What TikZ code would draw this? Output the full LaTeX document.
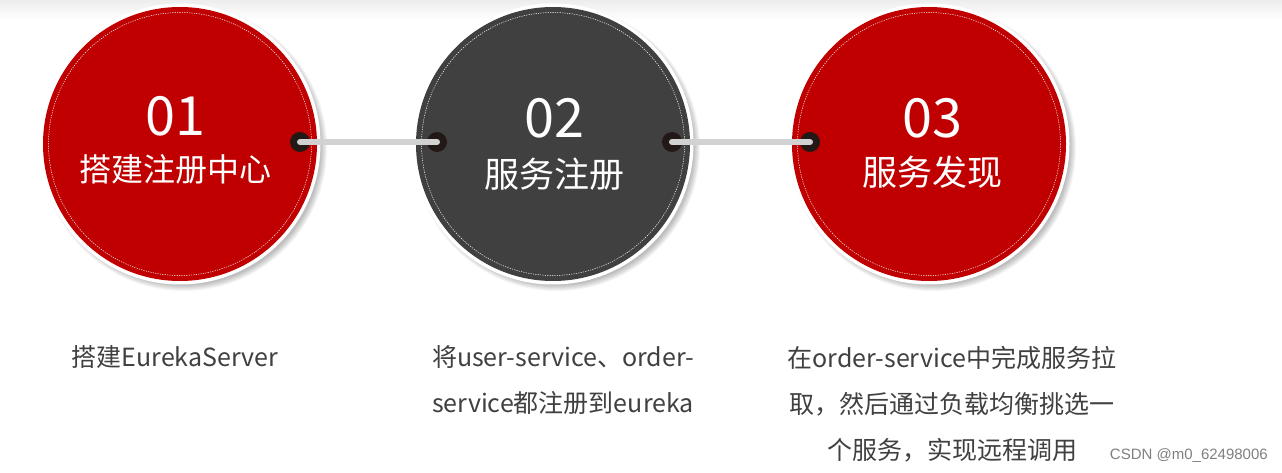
\documentclass[tikz,border=0pt]{standalone}
\usepackage{fontspec}
\setmainfont{Noto Sans CJK SC}
\newfontfamily\wmfont{Liberation Sans}
\definecolor{cred}{HTML}{C00000}
\definecolor{cdark}{HTML}{404040}
\definecolor{cdot}{HTML}{221816}
\definecolor{cbar}{HTML}{D2D2D2}
\definecolor{ctext}{HTML}{404040}
\begin{document}
\begin{tikzpicture}[x=1pt,y=-1pt,
  disc/.style={circle, minimum size=274pt, inner sep=0pt, draw=none},
  ring/.style={white, line width=0.5pt, dash pattern=on 1.2pt off 1.2pt},
  numtext/.style={text=white, font=\fontsize{54}{54}\selectfont, inner sep=0pt},
  titletext/.style={text=white, inner sep=0pt},
  dotnode/.style={circle, fill=cdot, minimum size=20pt, inner sep=0pt},
  bar/.style={cbar, line width=6pt, line cap=round},
  desc/.style={text=ctext, font=\fontsize{25}{46}\selectfont, align=center, inner sep=0pt}
]
\useasboundingbox (0,0) rectangle (1282,473);
\fill[white] (0,0) rectangle (1282,473);
\shade[top color=black!7, bottom color=white] (0,0) rectangle (1282,20);

% shadows and white rims
\foreach \cx in {180,553,929}{
  \foreach \k in {0,...,6}{
    \fill[black, opacity=0.04] (\cx+4,148) circle (137+\k);
  }
  \fill[white] (\cx,144) circle (140.5);
}

\node[disc, fill=cred] (c1) at (180,144) {};
\node[disc, fill=cdark] (c2) at (553,144) {};
\node[disc, fill=cred] (c3) at (929,144) {};
\draw[ring] (c1.center) circle (131.5);
\draw[ring] (c2.center) circle (131.5);
\draw[ring] (c3.center) circle (131.5);

\node[numtext] (n1) at (175,116) {01};
\node[numtext] (n2) at (554,118) {02};
\node[numtext] (n3) at (932,118) {03};
\node[titletext, font=\fontsize{32}{32}\selectfont] (t1) at (175,169) {搭建注册中心};
\node[titletext, font=\fontsize{35}{35}\selectfont] (t2) at (554,174) {服务注册};
\node[titletext, font=\fontsize{35}{35}\selectfont] (t3) at (932,172) {服务发现};

% connectors
\node[dotnode] (d1) at (300,142) {};
\node[dotnode] (d2) at (437,142) {};
\node[dotnode] (d3) at (672,142) {};
\node[dotnode] (d4) at (810,142) {};
\draw[bar] (d1.center) -- (d2.center);
\draw[bar] (d3.center) -- (d4.center);

% descriptions
\node[desc] (b1) at (175,357) {搭建EurekaServer};
\node[desc] (b2) at (563,380.5) {将user-service、order-\\service都注册到eureka};
\node[desc] (b3) at (952,404) {在order-service中完成服务拉\\取，然后通过负载均衡挑选一\\个服务，实现远程调用};

\node[anchor=east, text=black!50, font=\wmfont\fontsize{15}{15}\selectfont, inner sep=0pt] (wm) at (1268,456) {CSDN @m0\_62498006};
\end{tikzpicture}
\end{document}
